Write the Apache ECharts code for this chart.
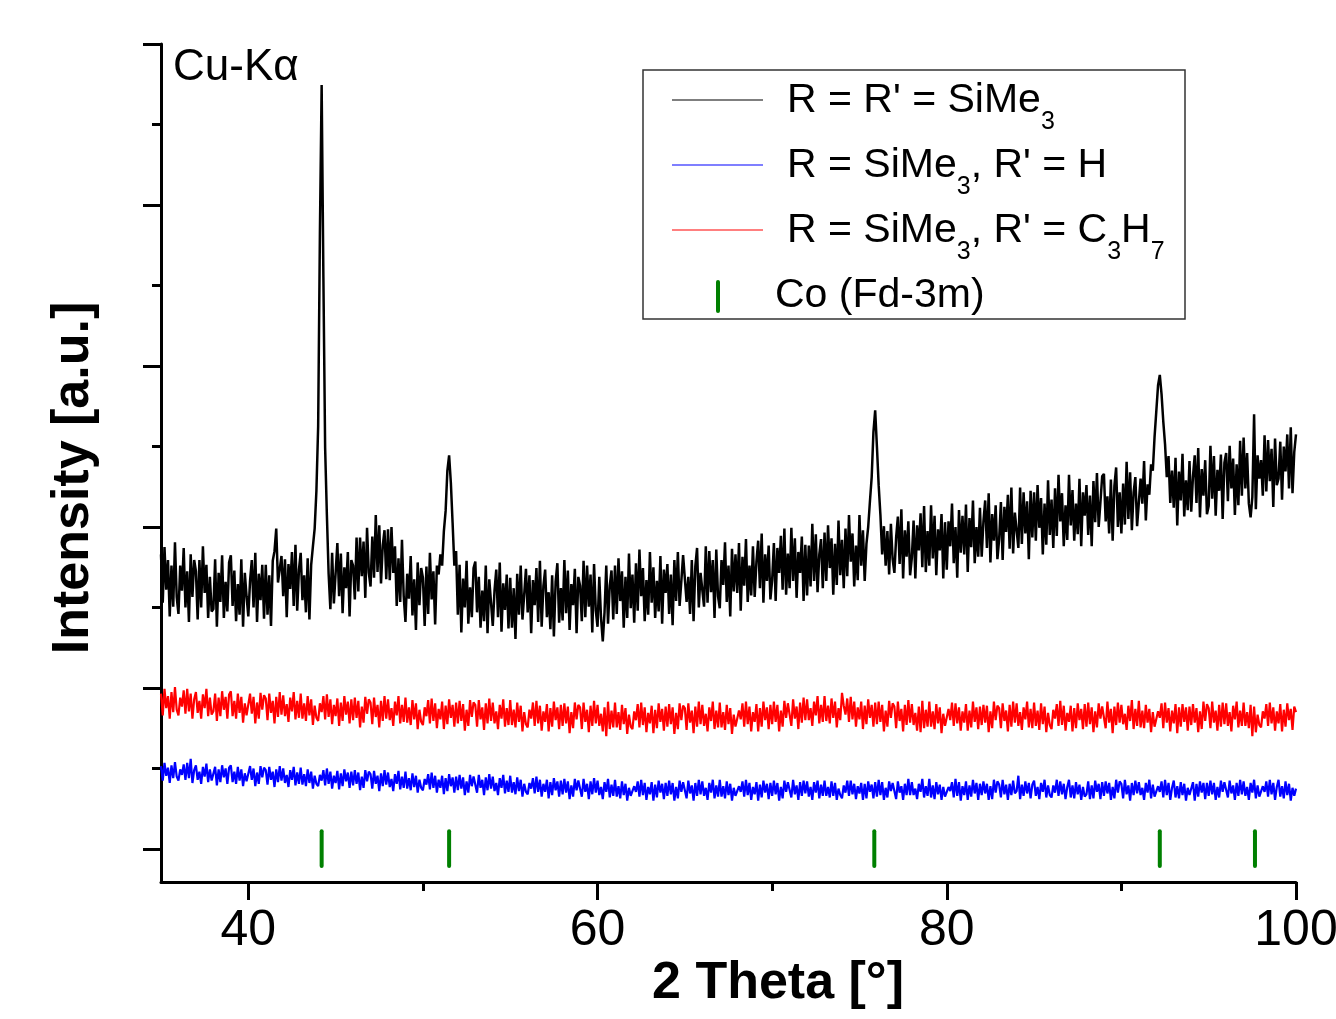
<!DOCTYPE html>
<html><head><meta charset="utf-8">
<script src="https://cdn.jsdelivr.net/npm/echarts@6/dist/echarts.min.js"></script>
<style>html,body{margin:0;padding:0;background:#fff}#chart{width:1336px;height:1019px}</style>
</head><body><div id="chart"></div>
<script>
// ---------------- data ----------------
const angleStart = 35;      // 2 Theta of first sample
const angleStep = 0.1;      // sample spacing
// R = R' = SiMe3 (black), one row per degree 35..99, last value at 100
const blackCounts = [
366,306,375,322,359,289,352,301,381,313,
292,352,321,374,300,345,282,366,313,359,
345,285,359,300,376,318,353,287,338,295,
298,360,276,343,307,365,287,332,295,356,
365,302,346,283,329,291,360,276,343,314,
289,333,359,300,368,282,342,309,353,286,
353,291,340,277,358,370,398,331,332,364,
314,360,288,354,323,369,302,378,296,347,
368,309,340,294,361,285,353,376,398,445,
525,765,949,710,498,415,342,298,368,305,
305,380,314,367,293,350,324,369,289,359,
352,310,387,320,387,339,382,312,399,343,
326,388,337,415,344,402,330,377,396,335,
397,334,400,343,376,302,361,307,384,314,
282,342,311,364,290,335,272,356,303,349,
337,277,351,292,368,310,345,279,352,341,
366,352,395,420,470,489,455,405,352,370,
291,353,269,336,300,358,280,325,288,349,
357,294,338,275,321,283,352,268,335,306,
277,321,347,288,356,270,330,297,341,274,
337,275,324,261,342,291,352,285,316,348,
294,340,268,334,303,349,282,358,276,327,
347,288,319,273,340,264,332,355,281,324,
284,359,293,346,272,329,303,348,268,338,
327,283,358,288,352,301,341,269,354,296,
276,338,287,258,294,352,280,327,346,285,
352,292,361,308,345,275,338,287,367,299,
341,281,355,296,372,314,349,283,334,291,
369,306,350,287,333,295,364,280,347,318,
354,292,341,278,359,308,369,302,333,365,
366,307,338,292,359,283,351,374,300,343,
345,301,376,306,370,319,359,287,372,314,
299,359,328,381,307,352,289,373,320,366,
318,380,296,363,327,385,307,352,315,376,
313,357,383,324,392,306,366,333,377,310,
334,380,308,374,343,389,322,398,316,367,
324,399,333,386,312,369,343,388,308,378,
315,377,326,404,333,391,319,366,385,324,
393,333,402,349,386,316,379,328,408,340,
384,324,398,339,415,357,392,326,377,334,
415,352,396,333,379,400,432,462,518,545,
500,452,415,366,401,352,395,341,404,360,
343,387,413,354,422,336,396,363,407,340,
362,408,336,402,371,417,350,426,344,395,
352,427,361,414,340,397,371,416,336,406,
347,407,376,429,355,400,337,421,368,414,
366,428,344,411,375,433,355,400,363,424,
363,407,433,374,442,356,416,383,427,360,
385,431,359,425,394,440,373,449,367,418,
418,374,449,379,443,392,432,360,445,387,
443,383,452,399,436,366,429,378,458,390,
434,374,448,389,465,407,442,376,427,384,
465,402,446,383,429,391,460,376,443,414,
452,390,439,376,457,406,467,400,431,463,
466,407,438,392,459,383,451,474,400,443,
392,454,403,481,410,468,396,443,462,401,
400,460,429,482,408,453,440,478,470,512,
544,576,589,565,531,503,462,488,430,470,
424,486,402,469,433,491,413,458,421,482,
419,463,489,430,498,412,472,439,483,416,
426,501,435,488,414,471,445,490,410,480,
492,432,501,448,485,415,478,427,507,439,
511,448,492,429,412,437,540,422,489,460,
483,439,514,444,508,457,497,425,510,452,
460,506,434,500,469,515,448,524,442,493,
515];
// R = SiMe3, R' = H (blue)
const blueCounts = [
103,85,107,91,101,82,104,88,108,90,
85,99,92,105,86,107,88,112,82,98,
104,86,96,81,102,90,106,83,99,85,
87,102,79,99,83,104,89,100,81,101,
104,83,96,81,102,85,99,78,94,84,
84,103,86,100,78,95,81,103,89,101,
98,80,102,86,96,77,99,83,103,85,
100,82,92,77,98,86,102,79,95,81,
101,80,93,78,99,82,96,75,91,81,
78,92,85,98,79,100,81,96,75,91,
82,97,74,94,78,99,84,95,76,96,
79,98,81,95,73,90,76,98,84,96,
93,75,97,81,91,72,94,78,98,80,
95,77,87,72,93,81,97,74,90,76,
96,75,88,73,94,77,91,70,86,76,
73,87,80,93,74,95,76,91,70,86,
76,91,68,88,72,93,78,89,70,90,
73,92,75,89,67,84,70,92,78,90,
88,70,92,76,86,67,89,73,93,75,
90,72,82,67,88,76,92,69,85,71,
91,70,83,68,89,72,86,65,81,71,
68,82,75,88,69,90,71,86,65,81,
71,86,63,83,67,88,73,84,65,85,
68,87,70,84,62,79,65,87,73,85,
83,65,87,71,81,62,84,68,88,70,
85,67,77,62,83,71,87,64,80,66,
86,65,78,63,84,67,81,60,76,66,
64,78,71,84,65,86,67,82,61,77,
68,83,60,80,64,85,70,81,62,82,
66,85,68,82,60,77,63,85,71,83,
81,63,85,69,79,60,82,66,86,68,
84,66,76,61,82,70,86,63,79,65,
86,65,78,63,84,67,81,60,76,66,
64,78,71,84,65,86,67,82,61,77,
68,83,60,80,64,85,70,81,62,82,
66,85,68,82,60,77,63,85,71,83,
81,64,86,68,79,61,83,66,85,69,
84,65,77,61,83,70,85,63,80,66,
85,66,77,64,84,66,82,61,75,67,
63,79,70,85,66,85,68,81,62,78,
69,82,61,81,63,84,71,80,63,83,
65,86,67,83,61,76,64,84,72,82,
82,62,84,70,78,61,81,67,87,67,
83,67,75,62,81,71,87,64,78,66,
87,64,79,62,83,68,80,61,77,65,
65,77,72,83,64,87,66,83,60,78,
67,84,61,79,65,86,69,82,61,81,
67,84,69,81,61,78,62,86,70,84,
80,64,86,68,80,61,81,67,85,69,
72,91,62,80,66,84,69,82,63,80,
85,66,77,62,82,71,86,64,79,67,
64,79,70,86,66,84,68,81,62,77,
86,64,79,63,83,68,80,61,77,65,
68,84,62,79,63,85,71,81,62,83,
66,84,69,82,61,77,63,86,70,84,
81,63,86,68,79,60,82,67,85,69,
83,67,76,61,82,70,86,63,80,65,
65,78,71,84,64,86,67,82,61,76,
85,64,78,63,83,67,81,60,76,67,
68,83,60,81,65,84,70,82,62,82,
66,85,68,82,61,77,64,85,71,83,
81,64,85,69,79,61,82,66,86,68,
84,66,77,61,82,70,86,63,79,65,
64,78,71,84,65,86,68,82,61,77,
86,65,78,63,84,67,81,60,76,66,
75];
// R = SiMe3, R' = C3H7 (red)
const redCounts = [
193,166,199,175,190,162,195,170,201,173,
166,188,177,197,168,199,171,193,162,186,
195,169,184,162,192,175,199,165,188,167,
171,193,159,188,165,196,173,189,162,192,
196,165,184,162,193,169,189,157,181,166,
165,193,168,189,156,182,162,194,173,191,
187,160,193,169,184,156,189,164,195,167,
191,165,180,158,188,171,195,161,184,163,
193,162,181,159,190,166,186,154,178,163,
159,181,170,190,161,192,164,186,155,179,
165,187,153,182,159,190,167,183,156,186,
160,188,163,184,151,177,157,189,168,186,
182,155,188,164,179,151,184,159,190,162,
186,160,175,153,183,166,190,156,179,158,
188,157,176,154,185,161,181,149,173,158,
154,176,165,185,156,187,159,181,150,174,
161,183,149,178,155,186,163,179,152,182,
156,184,159,180,147,173,153,185,164,182,
179,152,185,161,176,148,181,156,187,159,
182,156,171,149,179,162,186,152,175,154,
185,154,173,151,182,158,178,146,170,155,
151,173,162,182,153,184,156,178,147,171,
158,180,146,175,152,183,160,176,149,179,
153,181,156,177,144,170,150,182,161,179,
176,149,182,158,173,145,178,153,184,156,
179,153,168,146,176,140,183,149,172,151,
182,151,170,148,179,155,175,143,167,152,
149,171,160,180,151,182,154,176,145,169,
156,178,144,173,150,181,158,174,147,177,
152,180,155,176,143,169,149,181,160,178,
175,148,181,157,172,144,177,152,183,155,
179,153,168,146,176,159,183,149,172,151,
182,151,170,148,179,155,175,143,167,152,
150,172,161,181,152,183,155,177,146,170,
158,180,146,175,152,183,160,176,149,179,
155,183,158,179,146,172,152,184,163,181,
180,153,186,162,177,149,182,157,188,160,
186,160,175,153,183,166,190,156,179,158,
190,159,178,156,187,163,183,151,175,160,
194,178,167,187,158,189,161,183,152,176,
161,183,149,178,155,186,163,179,152,182,
155,183,158,179,146,172,152,184,163,181,
177,150,183,159,174,146,179,154,185,157,
180,154,169,147,177,145,184,150,173,152,
183,152,171,149,180,156,176,144,168,153,
151,174,160,182,153,181,156,176,147,171,
157,180,147,172,151,183,158,176,149,177,
154,179,157,178,145,171,150,183,160,178,
175,150,181,159,172,146,179,152,183,157,
181,153,170,148,176,161,183,151,174,150,
182,153,172,148,181,155,177,145,169,154,
149,173,162,180,153,184,154,178,147,169,
158,178,146,175,150,181,160,174,149,180,
152,182,155,176,145,171,151,181,162,177,
177,150,183,157,174,144,177,154,182,157,
179,155,168,148,178,159,185,149,174,153,
184,151,172,150,179,157,174,145,170,152,
151,171,163,181,150,182,157,175,146,172,
156,180,144,176,152,180,158,176,147,177,
154,180,157,175,145,171,149,183,159,180,
175,150,183,157,172,147,179,152,182,155,
181,153,170,146,178,161,183,151,172,153,
182,153,170,150,179,140,177,145,167,154,
151,171,162,180,153,182,156,176,147,171,
156,180,146,173,152,181,160,174,148,177,
170];
// Co (Fd-3m) reference reflections, 2 Theta
const coPeaks = [44.2, 51.5, 75.85, 92.2, 97.65];
const xMajorTicks = [40, 60, 80, 100];
const xMinorTicks = [50, 70, 90];
const yMajorTicks = [0, 200, 400, 600, 800, 1000];
const yMinorTicks = [100, 300, 500, 700, 900];
const seriesNames = ["R = R' = SiMe3", "R = SiMe3, R' = H", "R = SiMe3, R' = C3H7", "Co (Fd-3m)"];

// ---------------- chart ----------------
const FONT = '"Liberation Sans", Arial, Helvetica, sans-serif';
const Y_MIN = -41, Y_MAX = 1000;
const CO_LOW = -21, CO_HIGH = 22;
const toPairs = arr => arr.map((v, i) => [+(angleStart + i * angleStep).toFixed(2), v]);

const mctx = document.createElement('canvas').getContext('2d');
function measure(t, size) { mctx.font = size + 'px ' + FONT; return mctx.measureText(t).width; }
function textRow(parts, x0, yMid) {
  const els = []; let x = x0;
  parts.forEach(([t, sub]) => {
    const size = sub ? 25 : 41;
    els.push({ type: 'text', x: x, y: sub ? yMid + 21 : yMid, z: 20,
      style: { text: t, font: size + 'px ' + FONT, fill: '#000', align: 'left', verticalAlign: 'middle', textAlign: 'left', textVerticalAlign: 'middle' } });
    x += measure(t, size);
  });
  return els;
}

const axisCommon = {
  type: 'value', min: Y_MIN, max: Y_MAX, splitLine: { show: false },
  axisLine: { show: true, lineStyle: { color: '#000', width: 3 } }
};
const legendGraphics = [
  { type: 'rect', z: 19, shape: { x: 643, y: 70, width: 542, height: 249 }, style: { fill: '#fff', stroke: '#333', lineWidth: 1.5 } },
  { type: 'line', z: 20, shape: { x1: 672, y1: 100, x2: 763, y2: 100 }, style: { stroke: '#000', lineWidth: 1.2 } },
  { type: 'line', z: 20, shape: { x1: 672, y1: 165, x2: 763, y2: 165 }, style: { stroke: '#0000ff', lineWidth: 1.2 } },
  { type: 'line', z: 20, shape: { x1: 672, y1: 230, x2: 763, y2: 230 }, style: { stroke: '#ff0000', lineWidth: 1.2 } },
  { type: 'line', z: 20, shape: { x1: 718, y1: 282, x2: 718, y2: 311 }, style: { stroke: '#008000', lineWidth: 4, lineCap: 'round' } },
  ...textRow([["R = R' = SiMe", 0], ['3', 1]], 787, 101),
  ...textRow([['R = SiMe', 0], ['3', 1], [", R' = H", 0]], 787, 166),
  ...textRow([['R = SiMe', 0], ['3', 1], [", R' = C", 0], ['3', 1], ['H', 0], ['7', 1]], 787, 231),
  ...textRow([['Co (Fd-3m)', 0]], 775, 296)
];

const chart = echarts.init(document.getElementById('chart'), null, { renderer: 'canvas' });
chart.setOption({
  animation: false,
  backgroundColor: '#fff',
  grid: { left: 161, right: 40, top: 44, bottom: 137, containLabel: false, outerBoundsMode: 'none' },
  xAxis: [
    { type: 'value', min: 35, max: 100, position: 'bottom', splitLine: { show: false },
      axisLine: { show: true, onZero: false, lineStyle: { color: '#000', width: 3 } },
      axisTick: { show: true, length: 18, customValues: xMajorTicks, lineStyle: { color: '#000', width: 3 } },
      axisLabel: { show: true, customValues: xMajorTicks, margin: 24, fontSize: 50, fontFamily: FONT, color: '#000', showMinLabel: true, showMaxLabel: true, hideOverlap: false } },
    { type: 'value', min: 35, max: 100, position: 'bottom', splitLine: { show: false },
      axisLine: { show: false, onZero: false },
      axisTick: { show: true, length: 9, customValues: xMinorTicks, lineStyle: { color: '#000', width: 3 } },
      axisLabel: { show: false } }
  ],
  yAxis: [
    Object.assign({}, axisCommon, { position: 'left',
      axisTick: { show: true, length: 18, customValues: yMajorTicks, lineStyle: { color: '#000', width: 3 } },
      axisLabel: { show: false } }),
    Object.assign({}, axisCommon, { position: 'left', offset: 0, axisLine: { show: false },
      axisTick: { show: true, length: 9, customValues: yMinorTicks, lineStyle: { color: '#000', width: 3 } },
      axisLabel: { show: false } })
  ],
  graphic: [
    { type: 'text', x: 778, y: 984, z: 20, style: { text: '2 Theta [°]', font: 'bold 52px ' + FONT, fill: '#000', align: 'center', verticalAlign: 'middle', textAlign: 'center', textVerticalAlign: 'middle' } },
    { type: 'text', x: 74, y: 478, rotation: Math.PI / 2, z: 20, style: { text: 'Intensity [a.u.]', font: 'bold 52px ' + FONT, fill: '#000', align: 'center', verticalAlign: 'middle', textAlign: 'center', textVerticalAlign: 'middle' } },
    { type: 'text', x: 173, y: 68, z: 20, style: { text: 'Cu-Kα', font: '44px ' + FONT, fill: '#000', align: 'left', verticalAlign: 'middle', textAlign: 'left', textVerticalAlign: 'middle' } },
    ...legendGraphics
  ],
  series: [
    { name: seriesNames[0], type: 'line', xAxisIndex: 0, yAxisIndex: 0, data: toPairs(blackCounts), symbol: 'none', showSymbol: false, silent: true, sampling: 'none', lineStyle: { color: '#000', width: 2.5 }, itemStyle: { color: '#000' }, z: 4 },
    { name: seriesNames[1], type: 'line', xAxisIndex: 0, yAxisIndex: 0, data: toPairs(blueCounts), symbol: 'none', showSymbol: false, silent: true, sampling: 'none', lineStyle: { color: '#0000ff', width: 2.2 }, itemStyle: { color: '#0000ff' }, z: 3 },
    { name: seriesNames[2], type: 'line', xAxisIndex: 0, yAxisIndex: 0, data: toPairs(redCounts), symbol: 'none', showSymbol: false, silent: true, sampling: 'none', lineStyle: { color: '#ff0000', width: 2.2 }, itemStyle: { color: '#ff0000' }, z: 3 },
    { name: seriesNames[3], type: 'custom', xAxisIndex: 0, yAxisIndex: 0, silent: true, z: 5,
      data: coPeaks.map(p => [p, 0]), encode: { x: 0, y: 1 },
      renderItem: function (params, api) {
        const x = api.value(0);
        const p1 = api.coord([x, CO_LOW]);
        const p2 = api.coord([x, CO_HIGH]);
        return { type: 'line', shape: { x1: p1[0], y1: p1[1], x2: p2[0], y2: p2[1] },
          style: { stroke: '#008000', lineWidth: 4, lineCap: 'round' } };
      } }
  ]
});
</script></body></html>
